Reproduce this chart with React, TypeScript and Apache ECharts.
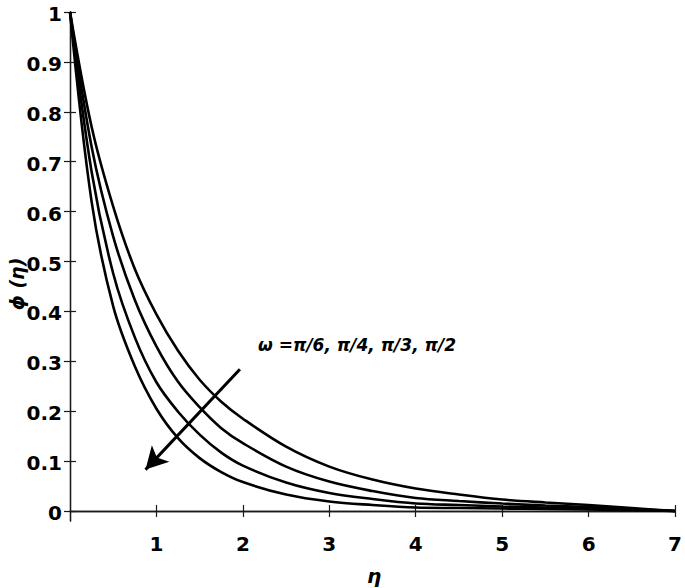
import React, { useEffect, useRef } from "react";
import * as echarts from "echarts";

const eta = [0, 0.25, 0.5, 0.75, 1, 1.25, 1.5, 1.75, 2, 2.5, 3, 3.5, 4, 4.5, 5, 5.5, 6, 6.5, 7];
const phiPi6 = [1, 0.77, 0.61, 0.485, 0.394, 0.321, 0.263, 0.219, 0.185, 0.129, 0.089, 0.063, 0.045, 0.033, 0.023, 0.017, 0.012, 0.006, 0];
const phiPi4 = [1, 0.73, 0.55, 0.423, 0.33, 0.259, 0.208, 0.166, 0.136, 0.089, 0.059, 0.04, 0.026, 0.02, 0.015, 0.011, 0.008, 0.004, 0];
const phiPi3 = [1, 0.68, 0.476, 0.348, 0.258, 0.199, 0.153, 0.117, 0.091, 0.057, 0.036, 0.024, 0.015, 0.012, 0.009, 0.007, 0.005, 0.0025, 0];
const phiPi2 = [1, 0.62, 0.41, 0.29, 0.205, 0.146, 0.106, 0.078, 0.058, 0.033, 0.019, 0.012, 0.007, 0.006, 0.005, 0.004, 0.003, 0.0015, 0];
const seriesNames = ["π/6", "π/4", "π/3", "π/2"];
const yTicks = [0, 0.1, 0.2, 0.3, 0.4, 0.5, 0.6, 0.7, 0.8, 0.9, 1];
const xTicks = [1, 2, 3, 4, 5, 6, 7];
const arrowStart = [1.966, 0.284];
const arrowEnd = [0.874, 0.083];
const annotation = "ω =π/6, π/4, π/3, π/2";

export default function App() {
  const ref = useRef<HTMLDivElement>(null);
  useEffect(() => {
    if (!ref.current) return;
    const chart = echarts.init(ref.current, null, { renderer: "svg" });
    const allPhi = [phiPi6, phiPi4, phiPi3, phiPi2];
    const axisLine = { show: true, lineStyle: { color: "#1a1a1a", width: 1.3 } };
    const tickFont = { fontFamily: "DejaVu Sans", fontWeight: "bold" as const, fontSize: 20, color: "#000" };
    const tickStyle = { show: true, inside: true, length: 6, lineStyle: { color: "#1a1a1a", width: 1.2 } };
    const series: any[] = allPhi.map((vals, i) => ({
      name: seriesNames[i],
      type: "line",
      data: eta.map((x, j) => [x, vals[j]]),
      smooth: 0.35,
      showSymbol: false,
      lineStyle: { color: "#000", width: 2.6 },
      itemStyle: { color: "#000" },
      xAxisIndex: 0,
      yAxisIndex: 0,
      z: 3,
    }));
    series.push({
      type: "line",
      data: [],
      xAxisIndex: 0,
      yAxisIndex: 0,
      markLine: {
        silent: true,
        symbol: ["none", "arrow"],
        symbolSize: [18, 22],
        label: { show: false },
        lineStyle: { color: "#000", width: 3, type: "solid" },
        data: [[{ coord: arrowStart }, { coord: arrowEnd }]],
      },
    });
    chart.setOption({
      animation: false,
      backgroundColor: "#fff",
      grid: { left: 70, right: 6, top: 7, bottom: 67 },
      xAxis: [
        {
          type: "value", min: 0, max: 7, interval: 1, position: "bottom",
          axisLine, splitLine: { show: false },
          axisTick: { ...tickStyle, customValues: xTicks },
          axisLabel: { ...tickFont, margin: 13, customValues: xTicks },
        },
        {
          type: "value", min: 0, max: 7, interval: 1, position: "top",
          axisLine, splitLine: { show: false },
          axisTick: { ...tickStyle, customValues: xTicks },
          axisLabel: { show: false },
        },
      ],
      yAxis: [
        {
          type: "value", min: -0.02, max: 1, position: "left",
          axisLine, splitLine: { show: false },
          axisTick: { ...tickStyle, customValues: yTicks },
          axisLabel: {
            margin: 8,
            customValues: yTicks,
            formatter: (v: number) => `{t|${v}}`,
            rich: { t: { ...tickFont, lineHeight: 20, padding: [4, 0, 0, 0] } },
          },
        },
        {
          type: "value", min: -0.02, max: 1, position: "right",
          axisLine, splitLine: { show: false },
          axisTick: { ...tickStyle, customValues: yTicks },
          axisLabel: { show: false },
        },
      ],
      graphic: [
        {
          type: "text", x: 258, y: 345,
          style: {
            text: annotation,
            font: "italic bold 17px 'DejaVu Sans', sans-serif",
            fill: "#000", verticalAlign: "middle", align: "left",
          },
        },
        {
          type: "text", x: 374, y: 576,
          style: {
            text: "η",
            font: "italic bold 20px 'DejaVu Sans', sans-serif",
            fill: "#000", verticalAlign: "middle", align: "center",
          },
        },
        {
          type: "text", x: 17, y: 284, rotation: Math.PI / 2,
          style: {
            text: "ϕ (η)",
            font: "italic bold 19px 'DejaVu Sans', sans-serif",
            fill: "#000", verticalAlign: "middle", align: "center",
          },
        },
      ],
      series,
    });
    return () => chart.dispose();
  }, []);
  return <div ref={ref} style={{ width: 685, height: 588, position: "absolute", left: 0, top: 0 }} />;
}
